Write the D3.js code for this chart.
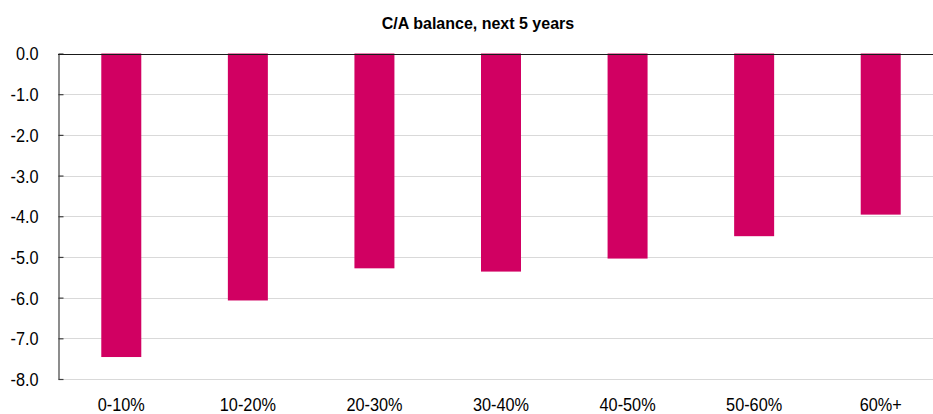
<!DOCTYPE html>
<html>
<head>
<meta charset="utf-8">
<script src="https://cdn.jsdelivr.net/npm/d3@7"></script>
<style>
  html, body { margin: 0; padding: 0; background: #fff; }
  svg { display: block; font-family: "Liberation Sans", Arial, sans-serif; }
</style>
</head>
<body>
<svg id="chart" width="933" height="414"></svg>
<script>
// Current-account balance by bucket, next 5 years (% of GDP)
const categories = ["0-10%", "10-20%", "20-30%", "30-40%", "40-50%", "50-60%", "60%+"];
const caBalance = [-7.46, -6.07, -5.28, -5.36, -5.04, -4.49, -3.96];
const yTicks = [0, -1, -2, -3, -4, -5, -6, -7, -8];
const title = "C/A balance, next 5 years";

const svg = d3.select("#chart");
const plot = { left: 58, right: 944, top: 53.5, bottom: 379 };
const labelSize = 18.5, labelSquash = 0.88;

const x = d3.scaleBand()
  .domain(categories)
  .range([plot.left, plot.right])
  .paddingInner(0.684)
  .paddingOuter(0.342);

const y = d3.scaleLinear()
  .domain([0, -8])
  .range([plot.top, plot.bottom]);

// plain hyphen for negatives, one decimal
const fmt = d => d.toFixed(1);

// horizontal gridlines
svg.append("g")
  .selectAll("line")
  .data(yTicks.filter(d => d !== 0))
  .join("line")
  .attr("x1", plot.left)
  .attr("x2", plot.right)
  .attr("y1", d => Math.round(y(d)) + 0.5)
  .attr("y2", d => Math.round(y(d)) + 0.5)
  .attr("stroke", "#d9d9d9")
  .attr("stroke-width", 1.2);

// bars
svg.append("g")
  .selectAll("rect")
  .data(categories.map((c, i) => ({ c, v: caBalance[i] })))
  .join("rect")
  .attr("x", d => x(d.c))
  .attr("width", x.bandwidth())
  .attr("y", d => y(0))
  .attr("height", d => y(d.v) - y(0))
  .attr("fill", "#d10062");

// y axis with inward ticks
const yAxis = svg.append("g")
  .attr("transform", `translate(${plot.left + 0.5},0)`)
  .call(d3.axisLeft(y)
    .tickValues(yTicks)
    .tickFormat(fmt)
    .tickSizeInner(-5)
    .tickSizeOuter(0));
yAxis.select(".domain").attr("stroke", "#404040").attr("stroke-width", 1.2);
yAxis.selectAll(".tick line").attr("stroke", "#404040").attr("stroke-width", 1.2);
yAxis.selectAll(".tick text")
  .attr("x", 0)
  .attr("dy", "0.35em")
  .attr("transform", `translate(-20,0) scale(${labelSquash},1)`)
  .attr("font-size", labelSize)
  .attr("fill", "#000")
  .attr("font-family", "Liberation Sans, Arial, sans-serif");

// zero line
svg.append("line")
  .attr("x1", plot.left)
  .attr("x2", plot.right)
  .attr("y1", Math.round(y(0)) + 0.5)
  .attr("y2", Math.round(y(0)) + 0.5)
  .attr("stroke", "#1a1a1a")
  .attr("stroke-width", 1.2);

// category labels
svg.append("g")
  .selectAll("text")
  .data(categories)
  .join("text")
  .attr("transform", d => `translate(${x(d) + x.bandwidth() / 2},411) scale(${labelSquash},1)`)
  .attr("text-anchor", "middle")
  .attr("font-size", labelSize)
  .attr("fill", "#000")
  .text(d => d);

// title
svg.append("text")
  .attr("x", 478)
  .attr("y", 29)
  .attr("text-anchor", "middle")
  .attr("font-size", 16)
  .attr("font-weight", "bold")
  .attr("fill", "#000")
  .text(title);
</script>
</body>
</html>
